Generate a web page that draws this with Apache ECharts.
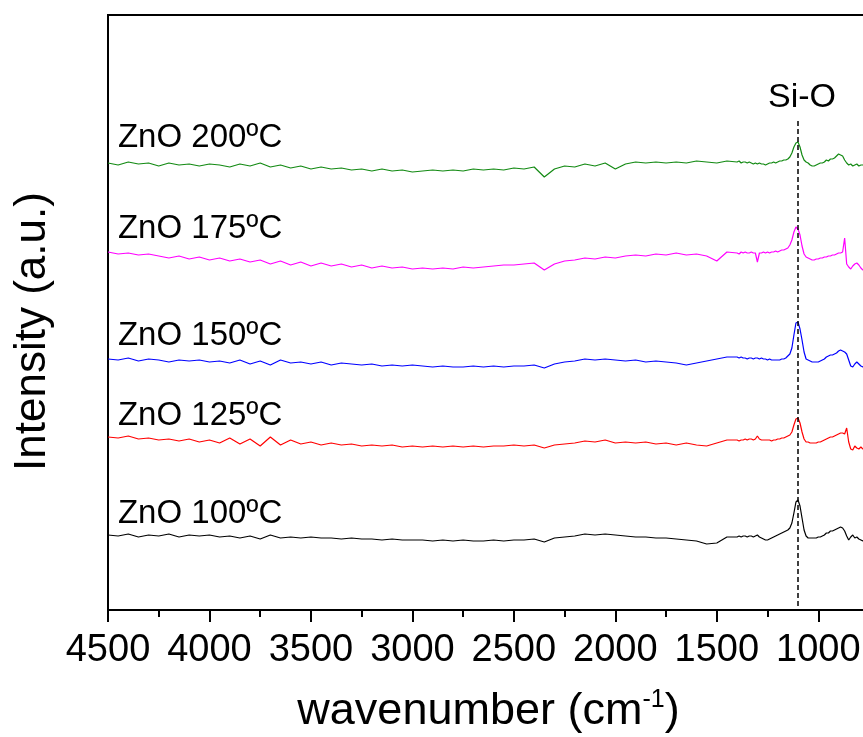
<!DOCTYPE html>
<html>
<head>
<meta charset="utf-8">
<style>
  html, body { margin: 0; padding: 0; background: #fff; }
  #chart { width: 863px; height: 737px; }
</style>
<script src="https://cdn.jsdelivr.net/npm/echarts@6/dist/echarts.min.js"></script>
</head>
<body>
<div id="chart"></div>
<script>
// Wavenumber sampling (cm-1): coarse over the flat region, finer near the Si-O band
const wavenumber = [
  4500,4450,4400,4350,4300,4250,4200,4150,4100,4050,
  4000,3950,3900,3850,3800,3750,3700,3650,3600,3550,
  3500,3450,3400,3350,3300,3250,3200,3150,3100,3050,
  3000,2950,2900,2850,2800,2750,2700,2650,2600,2550,
  2500,2450,2400,2350,2300,2250,2200,2150,2100,2050,
  2000,1950,1900,1850,1800,1750,1700,1650,1600,1550,
  1500,1450,
  1400,1390,1380,1370,1360,1350,1340,1330,1320,1310,
  1300,1290,1280,1270,1260,1250,1240,1230,1220,1210,
  1200,1190,1180,1170,1160,1150,1140,1130,1120,1110,
  1100,1090,1080,1070,1060,1050,1040,1030,1020,1010,
  1000,990,980,970,960,950,940,930,920,910,
  900,890,880,870,860,850,840,830,820,810,
  800,790,780,770,760
];

// Stacked spectra (arbitrary units, vertically offset)
const znO200 = [
  447,445,448,446,447,444,447,445,446,444,
  446,445,443,446,444,447,443,445,442,444,
  441,443,441,442,440,441,439,441,439,440,
  438,439,440,439,440,439,441,440,441,440,
  442,441,443,433,441,444,443,446,444,447,
  441,446,448,447,448,447,448,447,449,448,
  447,449,
  448,449,447,448,448,447,448,447,446,447,
  446,447,446,446,445,446,447,447,448,447,
  448,449,449,450,450,451,453,457,463,467,
  468,463,455,450,448,447,445,444,444,445,
  446,447,447,448,450,449,451,451,452,454,
  456,455,454,450,447,445,446,444,445,446,
  444,445,445,446,445
];
const znO175 = [
  358,356,357,355,356,354,352,354,351,353,
  350,352,349,351,348,350,346,349,345,348,
  344,347,344,346,343,345,342,344,342,343,
  341,342,341,342,341,343,342,343,344,345,
  345,346,347,340,346,349,350,352,351,353,
  352,354,355,354,356,355,357,355,356,354,
  349,358,
  357,356,358,357,358,357,357,358,357,357,
  348,357,357,358,357,358,357,358,358,359,
  358,359,360,360,361,362,365,370,378,383,
  381,375,364,356,353,352,351,350,350,351,
  351,352,352,353,353,354,354,355,355,356,
  357,357,358,372,346,343,341,344,346,347,
  345,342,340,341,340
];
const znO150 = [
  251,250,252,249,251,250,248,250,249,250,
  248,249,247,250,246,249,245,250,247,248,
  246,248,245,247,246,245,246,244,245,244,
  245,244,243,244,243,243,244,243,244,243,
  244,244,245,242,246,248,249,251,250,251,
  250,249,250,248,249,248,247,245,247,249,
  251,253,
  253,252,253,252,252,251,252,252,251,252,
  252,251,252,251,251,250,251,250,250,250,
  250,250,251,251,252,254,256,262,275,287,
  288,281,270,258,251,250,249,248,248,248,
  248,249,250,251,253,254,255,255,256,257,
  259,260,259,258,256,250,244,243,246,248,
  246,244,243,244,243
];
const znO125 = [
  173,172,174,171,172,170,171,169,171,168,
  170,167,172,166,171,164,173,165,170,166,
  168,165,167,165,166,164,165,164,165,163,
  164,163,164,163,164,163,164,163,164,164,
  165,164,165,162,165,166,167,169,168,170,
  167,168,167,168,166,167,165,167,165,164,
  167,170,
  170,169,170,170,171,170,171,171,170,171,
  174,171,170,170,170,170,170,169,170,170,
  171,171,172,172,173,174,175,178,185,191,
  192,187,178,171,168,168,167,167,167,167,
  168,168,169,170,171,172,173,173,174,175,
  176,177,177,176,182,168,161,160,164,162,
  161,163,161,162,161
];
const znO100 = [
  75,74,76,73,75,74,76,73,75,74,
  75,73,74,72,74,71,75,72,73,72,
  73,72,72,71,72,71,71,70,71,70,
  70,70,69,70,69,70,69,69,70,69,
  70,70,71,68,72,73,74,76,75,76,
  75,74,73,73,72,72,71,70,69,66,
  67,73,
  73,74,73,74,74,73,74,74,73,74,
  75,73,72,71,70,70,71,72,73,74,
  75,76,77,78,79,80,82,87,97,108,
  110,104,92,80,74,72,72,72,72,72,
  73,73,74,75,77,77,79,79,80,81,
  82,83,82,79,74,70,73,75,72,73,
  71,70,69,69,68
];

const sampleNames = ['ZnO 200ºC', 'ZnO 175ºC', 'ZnO 150ºC', 'ZnO 125ºC', 'ZnO 100ºC'];
const sampleColors = ['#138a13', '#ff00ff', '#0000ff', '#ff0000', '#000000'];
const sampleSpectra = [znO200, znO175, znO150, znO125, znO100];
// Level (a.u.) at which each sample name sits, and the wavenumber it starts at
const labelLevels = [472, 381, 274, 194, 96];
const labelWavenumber = 4451;

// Si-O band marker
const siOBand = 1100;
const siOTop = 489;
const siOLabelLevel = 512;
const siOLabelWavenumber = 1080;

// Axis ticks
const majorTicks = [4500, 4000, 3500, 3000, 2500, 2000, 1500, 1000];
const minorTicks = [4250, 3750, 3250, 2750, 2250, 1750, 1250, 750];
const xMin = 750, xMax = 4500, yMin = 0, yMax = 595;

const FONT = "'Liberation Sans', Arial, sans-serif";

const chart = echarts.init(document.getElementById('chart'), null, { renderer: 'canvas' });

const series = sampleSpectra.map((vals, i) => ({
  name: sampleNames[i],
  type: 'line',
  data: vals.map((v, k) => [wavenumber[k], v]),
  showSymbol: false,
  symbol: 'none',
  lineStyle: { color: sampleColors[i], width: 1.2 },
  itemStyle: { color: sampleColors[i] },
  z: 3
}));

series[4].markLine = {
  silent: true,
  symbol: ['none', 'none'],
  label: { show: false },
  lineStyle: { color: '#000', width: 1.5, type: [5, 3] },
  data: [[{ coord: [siOBand, siOTop] }, { coord: [siOBand, yMin] }]]
};

chart.setOption({
  animation: false,
  backgroundColor: '#fff',
  grid: {
    left: 108, top: 15, width: 761, height: 595,
    show: true, borderColor: '#000', borderWidth: 2,
    containLabel: false,
    outerBoundsMode: 'none'
  },
  xAxis: [{
    type: 'value', min: xMin, max: xMax, inverse: true, position: 'bottom',
    axisLine: { show: true, onZero: false, lineStyle: { color: '#000', width: 2 } },
    axisTick: { show: true, inside: false, length: 12, customValues: majorTicks,
                lineStyle: { color: '#000', width: 2 } },
    axisLabel: { show: true, customValues: majorTicks, margin: 22, fontSize: 38,
                 color: '#000', fontFamily: FONT, hideOverlap: false,
                 showMinLabel: true, showMaxLabel: true,
                 formatter: (v) => String(v) },
    splitLine: { show: false },
    name: 'wavenumber (cm{sup|-1})',
    nameLocation: 'middle', nameGap: 78,
    nameTextStyle: {
      fontSize: 45, color: '#000', fontFamily: FONT,
      rich: { sup: { fontSize: 25, color: '#000', fontFamily: FONT, verticalAlign: 'top', padding: [0, 0, 23, 0] } }
    }
  }, {
    type: 'value', min: xMin, max: xMax, inverse: true, position: 'bottom',
    axisLine: { show: false },
    axisTick: { show: true, inside: false, length: 7, customValues: minorTicks,
                lineStyle: { color: '#000', width: 2 } },
    axisLabel: { show: false },
    splitLine: { show: false }
  }],
  yAxis: {
    type: 'value', min: yMin, max: yMax,
    axisLine: { show: true, lineStyle: { color: '#000', width: 2 } },
    axisTick: { show: false },
    axisLabel: { show: false },
    splitLine: { show: false },
    name: 'Intensity (a.u.)',
    nameLocation: 'middle', nameGap: 53,
    nameTextStyle: { fontSize: 44, color: '#000', fontFamily: FONT, padding: [0, 38, 0, 0] }
  },
  series: series
});

// Sample names and the Si-O caption, anchored in data coordinates
const texts = sampleNames.map((name, i) => {
  const p = chart.convertToPixel({ gridIndex: 0 }, [labelWavenumber, labelLevels[i]]);
  return {
    type: 'text', x: p[0], y: p[1], z: 10,
    style: { text: name, fill: '#000', font: '33px ' + FONT, align: 'left', verticalAlign: 'middle' }
  };
});
const sp = chart.convertToPixel({ gridIndex: 0 }, [siOLabelWavenumber, siOLabelLevel]);
texts.push({
  type: 'text', x: sp[0], y: sp[1], z: 10,
  style: { text: 'Si-O', fill: '#000', font: '34px ' + FONT, align: 'center', verticalAlign: 'middle' }
});
chart.setOption({ graphic: texts });
</script>
</body>
</html>
